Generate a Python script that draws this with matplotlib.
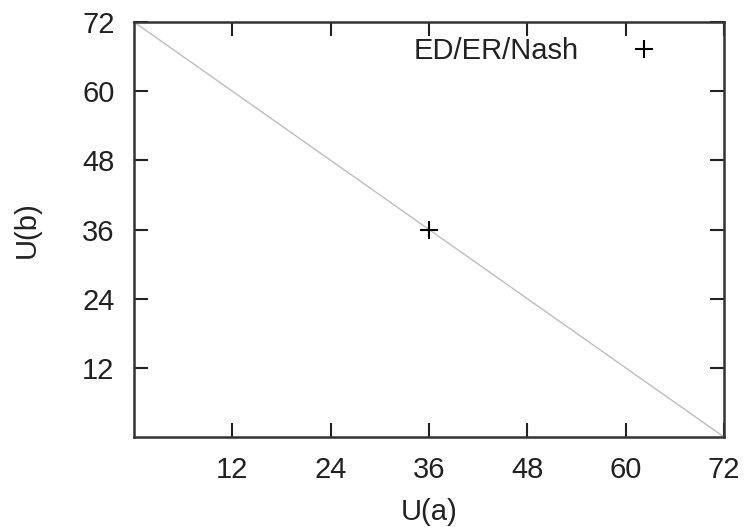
import matplotlib
matplotlib.use("Agg")
import matplotlib.pyplot as plt

plt.rcParams['font.family'] = ['Liberation Sans', 'DejaVu Sans']

frontier_x = [0, 72]
frontier_y = [72, 0]
point_x = [36]
point_y = [36]
series_label = "ED/ER/Nash"
ticks = [12, 24, 36, 48, 60, 72]

FS = 21

fig = plt.figure(figsize=(7.46, 5.31), dpi=100)
ax = fig.add_axes([134/746, 1-437/531, (724-134)/746, (437-22)/531])

ax.plot(frontier_x, frontier_y, color='#bdbdbd', lw=1.0)
ax.plot(point_x, point_y, linestyle='none', marker='+', color='black',
        markersize=13, markeredgewidth=1.5, label=series_label)

ax.set_xlim(0, 72)
ax.set_ylim(0, 72)
ax.set_xticks(ticks)
ax.set_yticks(ticks)
ax.tick_params(direction='in', length=10, width=1.5, labelsize=FS, top=True, right=True,
               pad=14, colors='#222222')
for s in ax.spines.values():
    s.set_linewidth(1.8)
    s.set_color('#333333')

ax.set_xlabel("U(a)", fontsize=FS, labelpad=10, color='#222222')
ax.set_ylabel("U(b)", fontsize=FS, labelpad=30, color='#222222')

leg = ax.legend(loc='upper right', frameon=False, markerfirst=False, fontsize=FS,
                handlelength=2.0, handletextpad=1.23, borderpad=0, borderaxespad=0,
                bbox_to_anchor=((673-134)/590, (437-37)/415))
for t in leg.get_texts():
    t.set_color('#222222')

fig.savefig("out.png", dpi=100)
